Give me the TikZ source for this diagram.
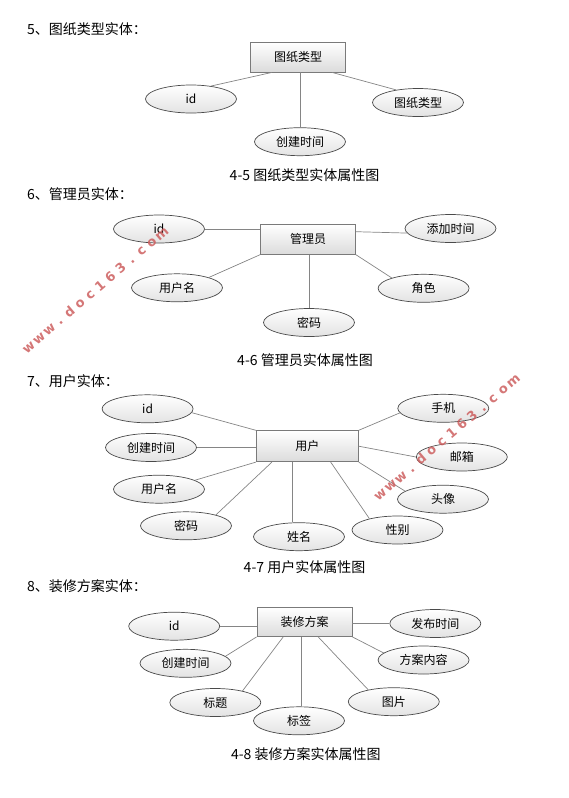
\documentclass[tikz,border=0pt]{standalone}
\usepackage{fontspec}
\newfontfamily\cjk{Noto Sans CJK SC}
\newfontfamily\wmfont{DejaVu Sans}
\usetikzlibrary{shapes.geometric}
\definecolor{boxline}{HTML}{7A7A7A}
\definecolor{elline}{HTML}{4A4A4A}
\definecolor{conncol}{HTML}{858585}
\definecolor{wmcol}{RGB}{205,95,95}
\newcommand\wmchar[1]{\makebox[13.45pt]{#1}}
\tikzset{
  ent/.style={rectangle, draw=boxline, line width=0.8pt, top color=white, bottom color=black!14,
    minimum width=95pt, minimum height=30pt, inner sep=0pt, font=\cjk\fontsize{12}{12}\selectfont},
  attr/.style={ellipse, draw=elline, line width=0.7pt, top color=white, bottom color=black!11,
    minimum width=91pt, minimum height=28pt, inner sep=0pt, font=\cjk\fontsize{12}{12}\selectfont},
  conn/.style={draw=conncol, line width=0.7pt},
  heading/.style={anchor=west, inner sep=0pt, font=\cjk\fontsize{14}{14}\selectfont},
  caption/.style={inner sep=0pt, font=\cjk\fontsize{14}{14}\selectfont},
  wm/.style={anchor=base, inner sep=0pt, rotate=40.4, text=wmcol, opacity=0.85, font=\wmfont\bfseries\fontsize{13}{13}\selectfont}
}
\begin{document}
\begin{tikzpicture}[x=1pt,y=-1pt]
\useasboundingbox (0,0) rectangle (569,798);

% ---------- 5 ----------
\node[heading] (h5) at (27,29.5) {5、图纸类型实体：};
\node[ent] (b1) at (298,57) {图纸类型};
\node[attr] (id1) at (191,99) {id};
\node[attr] (tz1) at (418,102.5) {图纸类型};
\node[attr] (cj1) at (300,141.7) {创建时间};
\draw[conn] ([xshift=-26pt]b1.south) -- (id1.33);
\draw[conn] ([xshift=34pt]b1.south) -- (tz1.150);
\draw[conn] ([xshift=2pt]b1.south) -- (cj1.north);
\node[caption] (c5) at (304.5,175.5) {4-5 图纸类型实体属性图};

% ---------- 6 ----------
\node[heading] (h6) at (27,194.3) {6、管理员实体：};
\node[ent] (b2) at (308,239.3) {管理员};
\node[attr] (id2) at (159,229) {id};
\node[attr] (tj2) at (450.5,228.5) {添加时间};
\node[attr] (un2) at (177,287.8) {用户名};
\node[attr] (js2) at (423.6,288.3) {角色};
\node[attr] (mm2) at (309,322.5) {密码};
\draw[conn] (id2.east) -- (id2.east -| b2.west);
\draw[conn] ([yshift=7.6pt]b2.east) -- (tj2.186);
\draw[conn] (b2.south west) -- (un2.18);
\draw[conn] (b2.south east) -- (js2.162);
\draw[conn] ([xshift=1pt]b2.south) -- (mm2.north);
\node[caption] (c6) at (305,360) {4-6 管理员实体属性图};

% ---------- 7 ----------
\node[heading] (h7) at (27,381) {7、用户实体：};
\node[ent, minimum width=102pt, minimum height=31pt] (b3) at (307.3,446.2) {用户};
\node[attr] (id3) at (147.6,408.8) {id};
\node[attr] (cj3) at (151,447.5) {创建时间};
\node[attr] (un3) at (159,489.2) {用户名};
\node[attr] (mm3) at (186,525.8) {密码};
\node[attr] (xm3) at (299,536.7) {姓名};
\node[attr] (xb3) at (397.5,530) {性别};
\node[attr] (tx3) at (443,499.2) {头像};
\node[attr] (yx3) at (461.8,457) {邮箱};
\node[attr] (sj3) at (443.3,408.3) {手机};
\draw[conn] (id3.-5) -- (b3.north west);
\draw[conn] (cj3.east) -- (cj3.east -| b3.west);
\draw[conn] (un3.14) -- (b3.south west);
\draw[conn] (mm3.20) -- ([xshift=16pt]b3.south west);
\draw[conn] ([xshift=-15pt]b3.south) -- ([xshift=-15pt]b3.south |- xm3.north);
\draw[conn] ([xshift=-28pt]b3.south east) -- (xb3.158);
\draw[conn] (b3.south east) -- (tx3.168);
\draw[conn] (b3.east) -- (yx3.west);
\draw[conn] (b3.north east) -- (sj3.186);
\node[caption] (c7) at (304.5,566.7) {4-7 用户实体属性图};

% ---------- 8 ----------
\node[heading] (h8) at (27,586) {8、装修方案实体：};
\node[ent, minimum height=29pt] (b4) at (304.5,622) {装修方案};
\node[attr] (id4) at (174.2,626.2) {id};
\node[attr] (fb4) at (435.3,623.5) {发布时间};
\node[attr] (cj4) at (185.5,663.3) {创建时间};
\node[attr] (bt4) at (215.3,702.5) {标题};
\node[attr] (bq4) at (299,720.8) {标签};
\node[attr] (tp4) at (393.8,701.7) {图片};
\node[attr] (fa4) at (423.6,660) {方案内容};
\draw[conn] (id4.east) -- (id4.east -| b4.west);
\draw[conn] (fb4.west -| b4.east) -- (fb4.west);
\draw[conn] (b4.south west) -- (cj4.10);
\draw[conn] ([xshift=26.6pt]b4.south west) -- (bt4.23);
\draw[conn] ([xshift=-3pt]b4.south) -- ([xshift=-3pt]b4.south |- bq4.north);
\draw[conn] ([xshift=13.7pt]b4.south) -- (tp4.155);
\draw[conn] (b4.south east) -- (fa4.170);
\node[caption] (c8) at (305.8,754) {4-8 装修方案实体属性图};

% ---------- watermarks ----------
\node[wm] (wmA) at (97.95,293.45) {\wmchar{w}\wmchar{w}\wmchar{w}\wmchar{.}\wmchar{d}\wmchar{o}\wmchar{c}\wmchar{1}\wmchar{6}\wmchar{3}\wmchar{.}\wmchar{c}\wmchar{o}\wmchar{m}};
\node[wm] (wmB) at (449.5,441) {\wmchar{w}\wmchar{w}\wmchar{w}\wmchar{.}\wmchar{d}\wmchar{o}\wmchar{c}\wmchar{1}\wmchar{6}\wmchar{3}\wmchar{.}\wmchar{c}\wmchar{o}\wmchar{m}};
\end{tikzpicture}
\end{document}
